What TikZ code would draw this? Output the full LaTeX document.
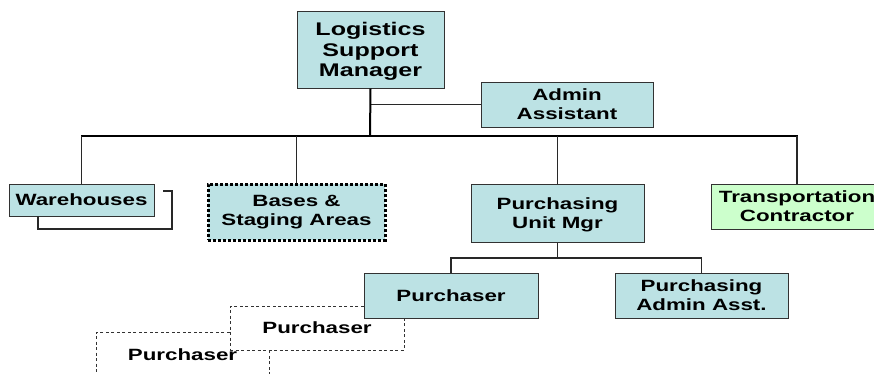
\documentclass[tikz,border=0pt]{standalone}
\usepackage{fontspec}
\setmainfont{Liberation Sans}[FakeStretch=1.37]
\definecolor{boxfill}{RGB}{188,226,228}
\definecolor{greenfill}{RGB}{204,255,204}
\definecolor{boxline}{RGB}{50,50,50}
\definecolor{conn}{RGB}{40,40,40}
\begin{document}
\begin{tikzpicture}[x=1pt,y=-1pt,
  box/.style={draw=boxline, fill=boxfill, line width=1pt, align=center, inner sep=0pt,
    font=\fontsize{16.3}{19}\selectfont\bfseries},
  gbox/.style={box, fill=greenfill},
  dotbox/.style={box, draw=black, line width=3pt, dash pattern=on 3pt off 2pt},
  ghost/.style={draw=boxline, fill=white, line width=0.8pt, dash pattern=on 3pt off 2.5pt,
    align=center, inner sep=0pt, font=\fontsize{16.3}{19}\selectfont\bfseries},
  ghosttext/.style={inner sep=0pt, font=\fontsize{16.3}{19}\selectfont\bfseries},
  conn/.style={draw=conn, line width=1.1pt},
  trunk/.style={draw=black, line width=2pt},
  busline/.style={draw=black, line width=1.4pt}]
\useasboundingbox (0,0) rectangle (874,373);
\clip (0,0) rectangle (874,373);

% ghost purchasers (behind)
\node[ghost, minimum width=173pt, minimum height=46pt] (p3) at (182.5,355) {};
\node[ghost, minimum width=174pt, minimum height=44pt] (p2) at (317,328) {Purchaser};
\node[ghosttext] (p3t) at (p3.center) {Purchaser};

% junction points
\coordinate (bus) at (370,136);
\coordinate (sub) at (557.5,258);
\coordinate (whb1) at (163,191);
\coordinate (bk) at (172,229);
\coordinate (bkend) at (38,216);

\node[box, minimum width=147pt, minimum height=77pt, text depth=0pt, font=\fontsize{18.3}{20.7}\selectfont\bfseries] (lsm) at (370.5,49.5) {Logistics\\Support\\Manager};
\node[box, minimum width=172pt, minimum height=45pt] (adm) at (567,104.5) {Admin\\Assistant};
\node[box, minimum width=145pt, minimum height=32pt] (wh) at (81.5,200) {Warehouses};
\node[dotbox, minimum width=177pt, minimum height=56pt] (bases) at (296.5,212) {Bases \&\\Staging Areas};
\node[box, minimum width=173pt, minimum height=58pt, text depth=0pt] (pum) at (557.5,213) {Purchasing\\Unit Mgr};
\node[gbox, minimum width=172pt, minimum height=45pt] (tc) at (797,206.5) {Transportation\\Contractor};
\node[box, minimum width=174pt, minimum height=45pt] (pur) at (451,295.5) {Purchaser};
\node[box, minimum width=173pt, minimum height=45pt] (paa) at (701.5,295.5) {Purchasing\\Admin Asst.};

\draw[conn] (lsm.south |- adm.west) -- (adm.west);
\draw[busline] (wh.north) |- (bus) -| (tc.north);
\draw[conn] (wh.north) -- (wh.north |- bus);
\draw[conn] (tc.north) -- (tc.north |- bus);
\draw[conn] (bases.north) -- (bases.north |- bus);
\draw[conn] (pum.north) -- (pum.north |- bus);
\draw[trunk] (lsm.south) -- (bus);
\draw[conn] (pum.south) -- (sub);
\draw[conn] (pur.north) |- (sub) -| (paa.north);
\draw[conn] (whb1) -| (bk) -| (bkend);
\end{tikzpicture}
\end{document}
